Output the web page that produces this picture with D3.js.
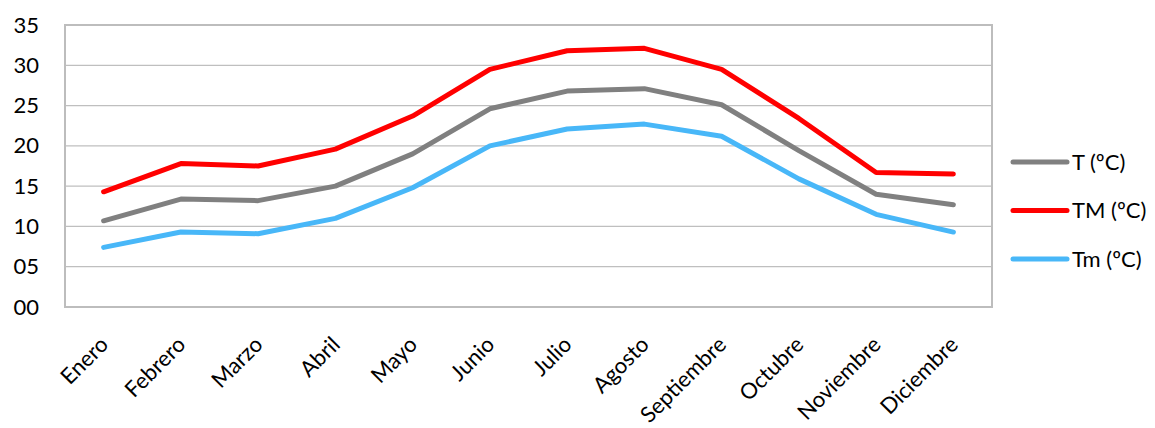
<!DOCTYPE html>
<html>
<head>
<meta charset="utf-8">
<script src="https://cdn.jsdelivr.net/npm/d3@7"></script>
<style>
  body { margin: 0; background: #fff; }
  #chart { width: 1155px; height: 428px; }
  text { font-family: Lato, "Open Sans", sans-serif; fill: #000; }
</style>
</head>
<body>
<div id="chart"></div>
<script>
// monthly temperatures
const months = ["Enero", "Febrero", "Marzo", "Abril", "Mayo", "Junio",
  "Julio", "Agosto", "Septiembre", "Octubre", "Noviembre", "Diciembre"];
const tMedia = [10.7, 13.4, 13.2, 15.0, 19.0, 24.6, 26.8, 27.1, 25.1, 19.4, 14.0, 12.7];
const tMax = [14.3, 17.8, 17.5, 19.6, 23.7, 29.5, 31.8, 32.1, 29.5, 23.4, 16.7, 16.5];
const tMin = [7.4, 9.3, 9.1, 11.0, 14.8, 20.0, 22.1, 22.7, 21.2, 15.9, 11.5, 9.3];
const yTicks = [0, 5, 10, 15, 20, 25, 30, 35];
const seriesNames = ["T (ºC)", "TM (ºC)", "Tm (ºC)"];
const seriesColors = ["#808080", "#ff0000", "#48b7f8"];

const series = [tMedia, tMax, tMin].map((v, i) => ({
    name: seriesNames[i],
    color: seriesColors[i],
    values: v
}));

const width = 1155, height = 428;
const margin = { left: 65, right: 163, top: 25, bottom: 121 };

let svg = d3.select('#chart').append('svg')
    .attr('width', width)
    .attr('height', height);

const x = d3.scaleBand()
    .domain(months)
    .range([margin.left, width - margin.right]);

const y = d3.scaleLinear()
    .domain([0, 35])
    .range([height - margin.bottom, margin.top]);

// gridlines
svg.append('g')
    .selectAll('line')
    .data(yTicks)
    .join('line')
    .attr('x1', margin.left)
    .attr('x2', width - margin.right)
    .attr('y1', d => y(d))
    .attr('y2', d => y(d))
    .attr('stroke', '#bfbfbf')
    .attr('stroke-width', 1.3);

// plot border
svg.append('rect')
    .attr('x', margin.left)
    .attr('y', margin.top)
    .attr('width', width - margin.left - margin.right)
    .attr('height', height - margin.top - margin.bottom)
    .attr('fill', 'none')
    .attr('stroke', '#bdbdbd')
    .attr('stroke-width', 2);

// y axis labels
const yAxis = svg.append('g')
    .attr('transform', `translate(${margin.left},0)`)
    .call(d3.axisLeft(y).tickValues(yTicks).tickSize(0).tickPadding(26)
        .tickFormat(d => d3.format('02d')(d)));
yAxis.select('.domain').remove();
yAxis.selectAll('text')
    .style('font-family', 'Lato, "Open Sans", sans-serif')
    .style('font-size', '22px')
    .attr('fill', '#000');

// x axis labels, rotated
const xAxis = svg.append('g')
    .attr('transform', `translate(0,${height - margin.bottom})`)
    .call(d3.axisBottom(x).tickSize(0).tickPadding(0));
xAxis.select('.domain').remove();
xAxis.selectAll('text')
    .style('font-family', 'Lato, "Open Sans", sans-serif')
    .style('font-size', '22px')
    .attr('fill', '#000')
    .attr('text-anchor', 'end')
    .attr('dy', null)
    .attr('y', null)
    .attr('transform', 'translate(6,39) rotate(-45)');

// lines
const line = d3.line()
    .x((d, i) => x(months[i]) + x.bandwidth() / 2)
    .y(d => y(d));

svg.append('g')
    .selectAll('path')
    .data(series)
    .join('path')
    .attr('d', d => line(d.values))
    .attr('fill', 'none')
    .attr('stroke', d => d.color)
    .attr('stroke-width', 5)
    .attr('stroke-linejoin', 'round')
    .attr('stroke-linecap', 'round');

// legend
const legend = svg.append('g')
    .attr('transform', 'translate(1013,162)');

const item = legend.selectAll('g')
    .data(series)
    .join('g')
    .attr('transform', (d, i) => `translate(0,${i * 48.5})`);

item.append('line')
    .attr('x1', 0)
    .attr('x2', 54)
    .attr('stroke', d => d.color)
    .attr('stroke-width', 5)
    .attr('stroke-linecap', 'round');

item.append('text')
    .attr('x', 59)
    .attr('dy', '0.35em')
    .style('font-size', '22px')
    .text(d => d.name);
</script>
</body>
</html>
